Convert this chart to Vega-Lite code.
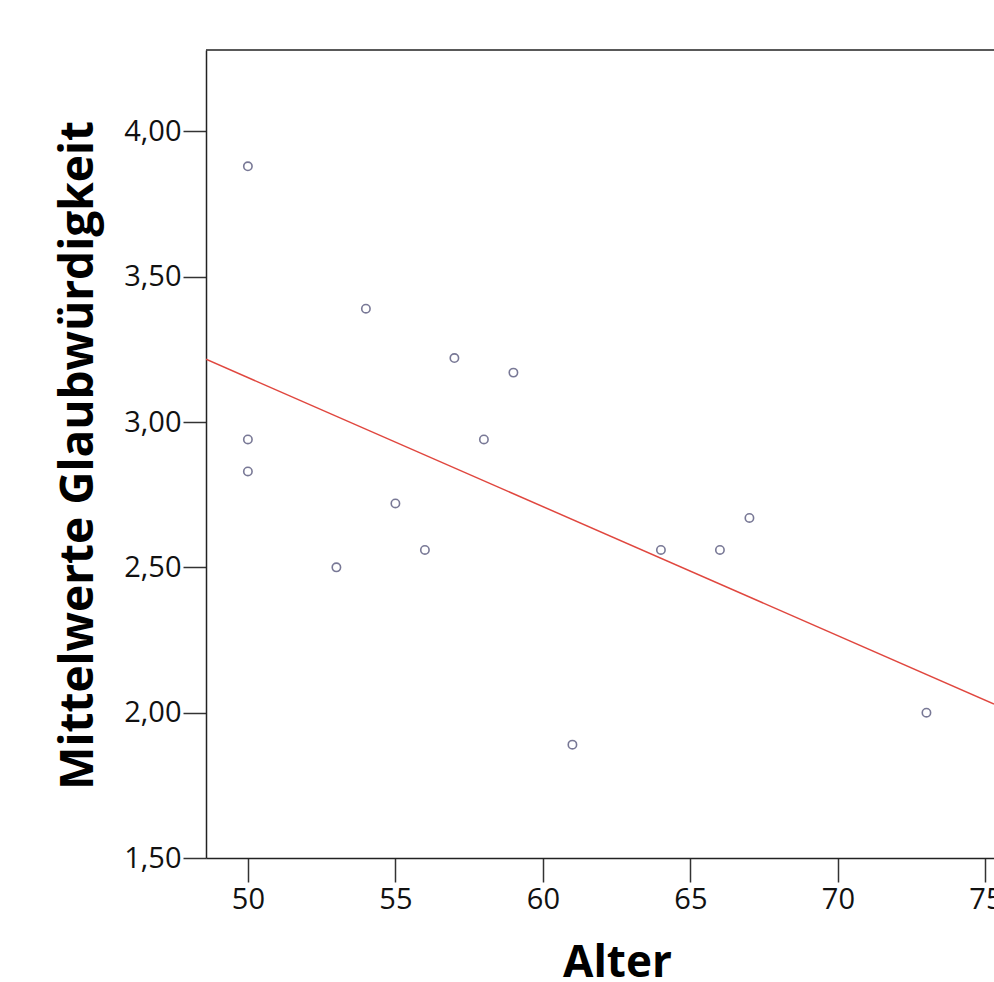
{
  "$schema": "https://vega.github.io/schema/vega-lite/v6.json",
  "autosize": {"type": "none"},
  "width": 788,
  "height": 808,
  "padding": {"left": 206, "top": 50, "right": 0, "bottom": 124},
  "background": "white",
  "config": {
    "locale": {"number": {"decimal": ",", "thousands": ".", "grouping": [3], "currency": ["", " €"]}},
    "view": {"stroke": null},
    "font": "Open Sans"
  },
  "datasets": {
    "points": [
      {"Alter": 50, "Glaubwuerdigkeit": 3.88},
      {"Alter": 50, "Glaubwuerdigkeit": 2.94},
      {"Alter": 50, "Glaubwuerdigkeit": 2.83},
      {"Alter": 53, "Glaubwuerdigkeit": 2.50},
      {"Alter": 54, "Glaubwuerdigkeit": 3.39},
      {"Alter": 55, "Glaubwuerdigkeit": 2.72},
      {"Alter": 56, "Glaubwuerdigkeit": 2.56},
      {"Alter": 57, "Glaubwuerdigkeit": 3.22},
      {"Alter": 58, "Glaubwuerdigkeit": 2.94},
      {"Alter": 59, "Glaubwuerdigkeit": 3.17},
      {"Alter": 61, "Glaubwuerdigkeit": 1.89},
      {"Alter": 64, "Glaubwuerdigkeit": 2.56},
      {"Alter": 66, "Glaubwuerdigkeit": 2.56},
      {"Alter": 67, "Glaubwuerdigkeit": 2.67},
      {"Alter": 73, "Glaubwuerdigkeit": 2.00}
    ],
    "fit": [
      {"Alter": 48.58, "Glaubwuerdigkeit": 3.216},
      {"Alter": 75.29, "Glaubwuerdigkeit": 2.030}
    ],
    "frame": [
      {"top": 4.28}
    ]
  },
  "layer": [
    {
      "data": {"name": "points"},
      "mark": {"type": "point", "filled": false, "size": 70, "strokeWidth": 1.6, "color": "#40406a", "clip": true},
      "encoding": {
        "x": {
          "field": "Alter", "type": "quantitative",
          "scale": {"domain": [48.58, 75.29], "nice": false, "zero": false},
          "axis": {
            "values": [50, 55, 60, 65, 70, 75],
            "format": "d",
            "grid": false,
            "domainColor": "#222222", "domainWidth": 1.5,
            "tickColor": "#333333", "tickWidth": 1.5, "tickSize": 24,
            "labelFontSize": 29, "labelColor": "#111111", "labelPadding": 3,
            "labelFlush": false, "labelOverlap": false, "labelBound": false,
            "title": "Alter",
            "titleFontSize": 44, "titleFontWeight": "bold", "titleColor": "#000000",
            "titleX": 411, "titleY": 118, "titleAnchor": "middle", "titleAlign": "center", "titleBaseline": "alphabetic"
          }
        },
        "y": {
          "field": "Glaubwuerdigkeit", "type": "quantitative",
          "scale": {"domain": [1.5, 4.28], "nice": false, "zero": false},
          "axis": {
            "values": [1.5, 2, 2.5, 3, 3.5, 4],
            "format": ".2f",
            "grid": false,
            "domainColor": "#222222", "domainWidth": 1.5,
            "tickColor": "#333333", "tickWidth": 1.5, "tickSize": 23,
            "labelFontSize": 29, "labelColor": "#111111", "labelPadding": 2,
            "labelOverlap": false, "labelBound": false, "labelFlush": false,
            "title": "Mittelwerte Glaubwürdigkeit",
            "titleFontSize": 46, "titleFontWeight": "bold", "titleColor": "#000000",
            "titleAngle": -90, "titleX": -128, "titleY": 405, "titleAlign": "center", "titleBaseline": "middle"
          }
        }
      }
    },
    {
      "data": {"name": "fit"},
      "mark": {"type": "line", "color": "#e0473f", "strokeWidth": 1.5, "clip": true},
      "encoding": {
        "x": {"field": "Alter", "type": "quantitative"},
        "y": {"field": "Glaubwuerdigkeit", "type": "quantitative"}
      }
    },
    {
      "data": {"name": "frame"},
      "mark": {"type": "rule", "color": "#222222", "strokeWidth": 1.5},
      "encoding": {
        "y": {"field": "top", "type": "quantitative"}
      }
    }
  ]
}
